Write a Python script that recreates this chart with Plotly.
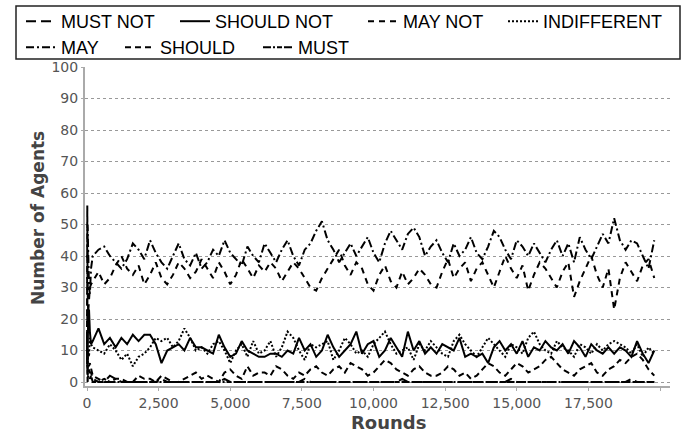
import plotly.graph_objects as go

early_rounds = [0, 10, 20, 40, 70, 100, 140]
late_rounds = list(range(200, 19801, 200))
rounds = early_rounds + late_rounds

must_not = [15, 5, 3, 2, 4, 3, 3] + [
    1, 0, 0, 2, 1, 0, 0, 0, 0, 0,
    0, 0, 1, 0, 0, 0, 0, 0, 0, 0,
    0, 0, 0, 1, 0, 0, 0, 0, 0, 0,
    0, 0, 0, 0, 0, 0, 0, 1, 0, 0,
    0, 0, 0, 0, 0, 0, 0, 0, 0, 0,
    0, 0, 0, 0, 1, 0, 0, 0, 0, 0,
    0, 0, 0, 0, 0, 0, 0, 0, 0, 0,
    0, 0, 0, 1, 0, 0, 0, 0, 0, 0,
    0, 0, 0, 0, 0, 0, 0, 0, 0, 0,
    0, 0, 0, 0, 1, 0, 0, 0, 0]
should_not = [14, 5, 8, 20, 23, 16, 12] + [
    13, 17, 12, 14, 11, 14, 12, 15, 13, 15,
    15, 12, 6, 10, 11, 12, 10, 14, 11, 11,
    10, 9, 15, 11, 8, 9, 13, 10, 9, 8,
    8, 9, 9, 8, 10, 9, 14, 10, 12, 8,
    10, 15, 11, 8, 10, 12, 16, 9, 12, 13,
    8, 10, 14, 11, 8, 16, 10, 13, 9, 11,
    9, 12, 11, 10, 14, 8, 9, 8, 9, 6,
    11, 13, 10, 12, 9, 13, 8, 11, 10, 13,
    11, 10, 12, 9, 13, 11, 8, 12, 10, 9,
    11, 9, 11, 10, 8, 13, 9, 6, 10]
may_not = [14, 56, 30, 22, 28, 30, 31] + [
    32, 35, 31, 33, 37, 40, 36, 34, 37, 31,
    34, 38, 33, 31, 34, 38, 36, 33, 35, 39,
    36, 33, 38, 35, 31, 34, 39, 36, 33, 37,
    35, 38, 36, 32, 35, 38, 36, 33, 30, 29,
    33, 36, 39, 42, 37, 34, 38, 36, 31, 29,
    34, 37, 32, 30, 35, 31, 33, 36, 34, 31,
    30, 35, 39, 33, 36, 38, 32, 36, 38, 34,
    30, 35, 40, 36, 33, 37, 29, 34, 38, 36,
    33, 30, 35, 38, 27, 32, 36, 40, 34, 30,
    36, 23, 33, 38, 35, 32, 37, 39, 33]
indifferent = [14, 6, 5, 10, 8, 14, 12] + [
    11, 10, 9, 12, 10, 7, 9, 5, 8, 9,
    11, 14, 13, 14, 11, 13, 17, 14, 10, 11,
    9, 12, 13, 10, 6, 10, 12, 8, 13, 9,
    10, 13, 8, 11, 16, 14, 10, 7, 12, 11,
    12, 13, 7, 10, 14, 12, 9, 10, 8, 12,
    14, 16, 12, 9, 10, 11, 7, 12, 10, 13,
    11, 9, 8, 13, 15, 12, 10, 8, 11, 14,
    12, 10, 8, 12, 11, 9, 14, 16, 12, 10,
    9, 13, 11, 10, 8, 12, 11, 9, 12, 10,
    12, 13, 12, 11, 9, 12, 8, 11, 9]
may = [14, 20, 50, 38, 30, 28, 36] + [
    40, 42, 43, 40, 38, 36, 39, 44, 42, 39,
    45, 41, 38, 36, 40, 44, 39, 37, 41, 36,
    38, 42, 40, 45, 41, 39, 37, 43, 40, 38,
    44, 41, 38, 42, 45, 40, 37, 42, 44, 48,
    51, 45, 42, 38, 41, 44, 40, 43, 46, 41,
    38, 44, 48, 45, 42, 47, 49, 46, 40, 43,
    45, 41, 38, 44, 40, 42, 46, 41, 39, 43,
    48, 46, 42, 39, 45, 43, 40, 44, 41, 38,
    42, 45, 40, 44, 38, 46, 42, 39, 43, 47,
    44, 52, 45, 42, 45, 44, 40, 36, 45]
should = [14, 5, 4, 6, 5, 6, 4] + [
    2, 1, 0, 0, 1, 1, 0, 0, 2, 1,
    1, 0, 2, 1, 0, 0, 1, 2, 3, 1,
    2, 1, 0, 3, 4, 2, 1, 5, 2, 3,
    3, 2, 5, 4, 2, 1, 3, 2, 4, 5,
    3, 2, 4, 5, 3, 6, 5, 4, 2, 3,
    5, 7, 6, 4, 3, 2, 4, 5, 3, 2,
    2, 3, 5, 4, 2, 3, 1, 2, 4, 6,
    5, 3, 2, 4, 6, 5, 3, 4, 5, 7,
    8, 6, 4, 3, 2, 4, 5, 6, 3, 2,
    4, 5, 7, 6, 8, 9, 7, 4, 2]
must = [15, 3, 0, 2, 2, 1, 2] + [
    0, 0, 1, 0, 0, 0, 0, 0, 0, 0,
    0, 0, 0, 0, 0, 0, 0, 0, 0, 0,
    0, 0, 0, 0, 0, 0, 0, 0, 0, 0,
    0, 0, 0, 0, 0, 0, 0, 0, 0, 0,
    0, 0, 0, 0, 0, 0, 0, 0, 0, 0,
    0, 0, 0, 0, 0, 0, 0, 0, 0, 0,
    0, 0, 0, 0, 0, 0, 0, 0, 0, 0,
    0, 0, 0, 0, 0, 0, 0, 0, 0, 0,
    0, 0, 0, 0, 0, 0, 0, 0, 0, 0,
    0, 0, 0, 0, 0, 0, 0, 0, 0]

series_names = ["MUST NOT", "SHOULD NOT", "MAY NOT", "INDIFFERENT", "MAY", "SHOULD", "MUST"]
series_values = [must_not, should_not, may_not, indifferent, may, should, must]
series_dash = ["10px,5px", "solid", "6px,5px", "2px,2px",
               "8px,3px,2px,3px", "6px,4px", "8px,2px,2px,2px,5px,2px"]

x_ticks = [0, 2500, 5000, 7500, 10000, 12500, 15000, 17500, 20000]
y_ticks = [0, 10, 20, 30, 40, 50, 60, 70, 80, 90, 100]

W, H = 682, 435
L, R, T, B = 85, 12, 67, 49
PW, PH = W - L - R, H - T - B

# legend entry positions (pixel: text start, row top)
legend_px = [(63, 3), (217, 3), (405, 3), (545, 3), (63, 29), (162, 29), (300, 29)]

fig = go.Figure()
legend_layouts = {}
for i, (name, vals, dash) in enumerate(zip(series_names, series_values, series_dash)):
    lid = "legend" if i == 0 else f"legend{i + 1}"
    fig.add_trace(go.Scatter(x=rounds, y=vals, name=name, mode="lines", legend=lid,
                             line=dict(color="black", width=2, dash=dash)))
    px, py = legend_px[i]
    legend_layouts[lid] = dict(
        orientation="h", xref="container", yref="container",
        x=(px - 42) / W, y=1 - py / H, xanchor="left", yanchor="top",
        bgcolor="rgba(0,0,0,0)", borderwidth=0, itemwidth=30,
        font=dict(family="Liberation Sans, Arial", size=18, color="black"))

fig.update_layout(
    width=W, height=H,
    margin=dict(l=L, r=R, t=T, b=B, autoexpand=False),
    paper_bgcolor="white", plot_bgcolor="white",
    font=dict(family="DejaVu Sans", size=14, color="#555555"),
    showlegend=True,
    xaxis=dict(range=[-70, 20349], tickvals=x_ticks,
               ticktext=[f"{v:,}" for v in x_ticks],
               showgrid=False, zeroline=False,
               showline=True, linecolor="#aaaaaa", linewidth=2,
               ticks="outside", ticklen=3, tickcolor="#aaaaaa",
               tickfont=dict(family="DejaVu Sans", size=14, color="#555555")),
    yaxis=dict(range=[-1.27, 100], tickvals=y_ticks,
               showgrid=True, gridcolor="#999999", griddash="dot", gridwidth=1,
               zeroline=False,
               showline=True, linecolor="#aaaaaa", linewidth=2,
               ticks="outside", ticklen=2, tickcolor="#aaaaaa",
               tickfont=dict(family="DejaVu Sans", size=14, color="#555555")),
    **legend_layouts,
)

# legend border box
fig.add_shape(type="rect", xref="paper", yref="paper",
              x0=(16 - L) / PW, x1=(680 - L) / PW,
              y0=(H - B - 59) / PH, y1=(H - B - 6) / PH,
              line=dict(color="#222222", width=1.5), fillcolor="rgba(0,0,0,0)")

fig.add_annotation(text="<b>Rounds</b>", xref="paper", yref="paper",
                   x=(388 - L) / PW, y=-(422 - (H - B)) / PH,
                   showarrow=False, xanchor="center", yanchor="middle",
                   font=dict(family="DejaVu Sans", size=18, color="#444444"))
fig.add_annotation(text="<b>Number of Agents</b>", xref="paper", yref="paper",
                   x=-(L - 38) / PW, y=(H - B - 218) / PH,
                   showarrow=False, textangle=-90, xanchor="center", yanchor="middle",
                   font=dict(family="DejaVu Sans", size=17, color="#444444"))

fig.write_html("out.html")
